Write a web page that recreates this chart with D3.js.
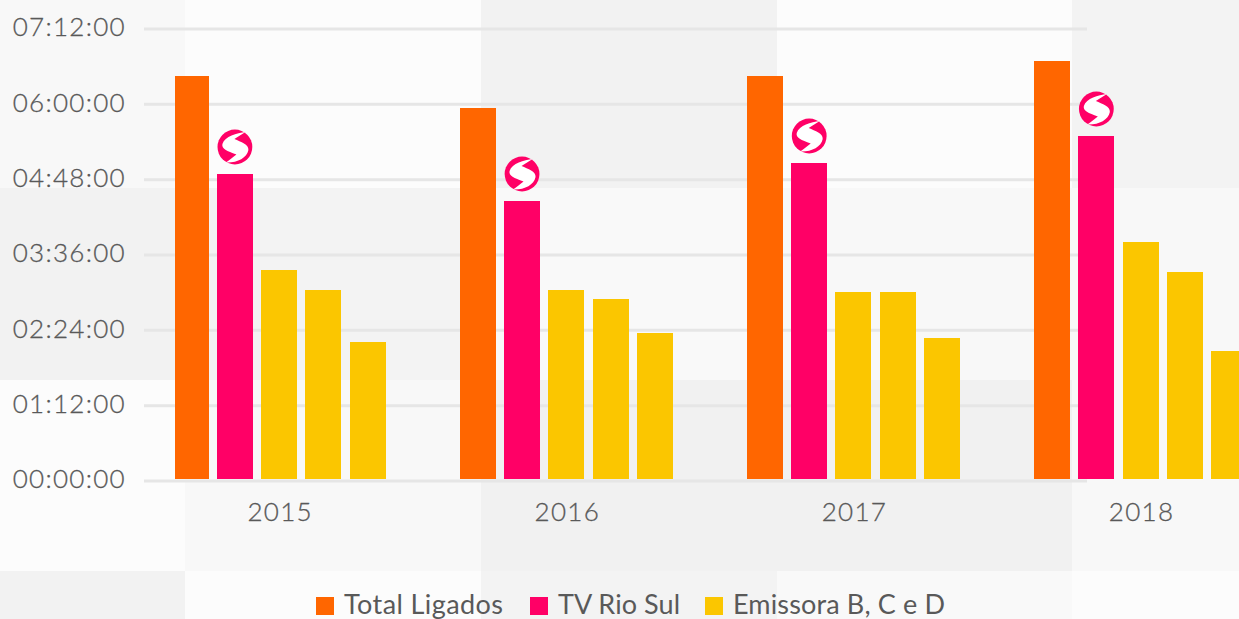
<!DOCTYPE html>
<html><head><meta charset="utf-8">
<script src="https://cdn.jsdelivr.net/npm/d3@7"></script>
<style>
html,body{margin:0;padding:0;background:#fcfcfc;overflow:hidden}
svg{display:block}
text{font-family:Lato,sans-serif;fill:#595959}
.tick text{font-size:26px;font-weight:300;letter-spacing:1.3px;stroke:#595959;stroke-width:0.3px}
.legend text{font-size:27px}
</style></head><body>
<svg id="c" width="1239" height="619"></svg>
<script>
const years = ["2015","2016","2017","2018"];
const totalLigados = ["06:26:36","05:56:00","06:26:36","06:40:55"];
const tvRioSul     = ["04:52:55","04:27:07","05:03:26","05:29:14"];
const emissoraB    = ["03:21:10","03:02:04","03:00:10","03:47:56"];
const emissoraC    = ["03:02:04","02:53:28","03:00:10","03:19:16"];
const emissoraD    = ["02:12:22","02:21:00","02:16:10","02:03:46"];
const yTicks = ["00:00:00","01:12:00","02:24:00","03:36:00","04:48:00","06:00:00","07:12:00"];
const legendNames = ["Total Ligados","TV Rio Sul","Emissora B, C e D"];
const seriesNames = ["total","rio","b","c","d"];
const seriesValues = [totalLigados,tvRioSul,emissoraB,emissoraC,emissoraD];
const orange="#ff6600", pink="#ff0066", yellow="#fbc600";
const seriesColors = [orange,pink,yellow,yellow,yellow];
const legendColors = [orange,pink,yellow];

// backdrop checker tones
const bgCols=[0,185,481,777,1072,1239], bgRows=[0,188,380,571,619];
const bgTones=[
 ["#f8f8f8","#fcfcfc","#f2f2f2","#fcfcfc","#f3f3f3"],
 ["#f2f2f2","#f3f3f3","#f9f9f9","#f8f8f8","#f8f8f8"],
 ["#fcfcfc","#f8f8f8","#f1f1f1","#f1f1f1","#f8f8f8"],
 ["#f2f2f2","#fcfcfc","#f3f3f3","#f9f9f9","#fcfcfc"]];

const secs = s => { const [h,m,x]=s.split(":").map(Number); return h*3600+m*60+x; };
const svg = d3.select("#c");

const bg = svg.append("g");
bgTones.forEach((row,r)=>row.forEach((tone,c)=>{
  bg.append("rect").attr("x",bgCols[c]).attr("y",bgRows[r])
    .attr("width",bgCols[c+1]-bgCols[c]).attr("height",bgRows[r+1]-bgRows[r]).attr("fill",tone);
}));

const y = d3.scaleLinear().domain([0,secs("07:12:00")]).range([480.5,28.5]);
const x0 = d3.scaleBand().domain(years).range([135.575,1284.175]);
const groupW = 213;
const x1 = d3.scaleBand().domain(seriesNames)
  .range([x0.bandwidth()/2-groupW/2, x0.bandwidth()/2+groupW/2]).paddingInner(0.186);

// y axis + gridlines
const gridL=144, gridR=1087;
const yAxis = d3.axisLeft(y).tickValues(yTicks.map(secs))
  .tickFormat((d,i)=>yTicks[i]).tickSizeInner(-(gridR-gridL)).tickSizeOuter(0).tickPadding(18);
const gy = svg.append("g").attr("transform",`translate(${gridL},0)`).call(yAxis);
gy.select(".domain").remove();
gy.selectAll("line").attr("stroke","#e6e6e6").attr("stroke-width",3);
gy.selectAll("text").attr("dy","0.28em");

// x axis
const xAxis = d3.axisBottom(x0).tickSize(0).tickPadding(21);
const gx = svg.append("g").attr("transform","translate(0,482)").call(xAxis);
gx.select(".domain").remove();
gx.selectAll("text").attr("dy","0.71em").attr("dx","1");

// plot clip: bars start at the left edge of the plot area
svg.append("clipPath").attr("id","plot").append("rect")
  .attr("x",175).attr("y",0).attr("width",1064).attr("height",619);

// bars
const base = y(0)-1.5;
const groups = svg.append("g").attr("clip-path","url(#plot)")
  .selectAll("g").data(years).join("g")
  .attr("transform",d=>`translate(${x0(d)},0)`);
groups.selectAll("rect").data((d,i)=>seriesNames.map((s,k)=>({s,v:secs(seriesValues[k][i]),c:seriesColors[k]})))
  .join("rect")
  .attr("shape-rendering","crispEdges")
  .attr("x",d=>x1(d.s)).attr("width",x1.bandwidth())
  .attr("y",d=>y(d.v)).attr("height",d=>base-y(d.v)).attr("fill",d=>d.c);

// S logos above the TV Rio Sul bars
const logoPath="M10.5,-15 C2,-14 -10,-11 -12.5,-3 C-13.5,2 -8,4 1.5,7.5 C-2,10 -5,13 -9,15.5 C2,16 12,11 13.5,3 C14,-3 6,-5 -0.5,-8 C3,-10 7,-13 10.5,-15 Z";
const logos = svg.append("g").selectAll("g").data(tvRioSul).join("g")
  .attr("transform",(d,i)=>`translate(${x0(years[i])+x1("rio")+x1.bandwidth()/2},${y(secs(d))-27})`);
logos.append("circle").attr("r",17.4).attr("fill",pink);
logos.append("path").attr("d",logoPath).attr("fill","#fff");

// legend
const legendX = d3.scaleOrdinal().domain(legendNames).range([316,530,705]);
const legendW = d3.scaleOrdinal().domain(legendNames).range([159,122,212]);
const lg = svg.append("g").attr("class","legend").selectAll("g").data(legendNames).join("g")
  .attr("transform",d=>`translate(${legendX(d)},0)`);
lg.append("rect").attr("y",597).attr("width",18).attr("height",18).attr("fill",(d,i)=>legendColors[i]);
lg.append("text").attr("x",28).attr("y",614).attr("textLength",d=>legendW(d)).attr("lengthAdjust","spacing").text(d=>d);
</script>
</body></html>
